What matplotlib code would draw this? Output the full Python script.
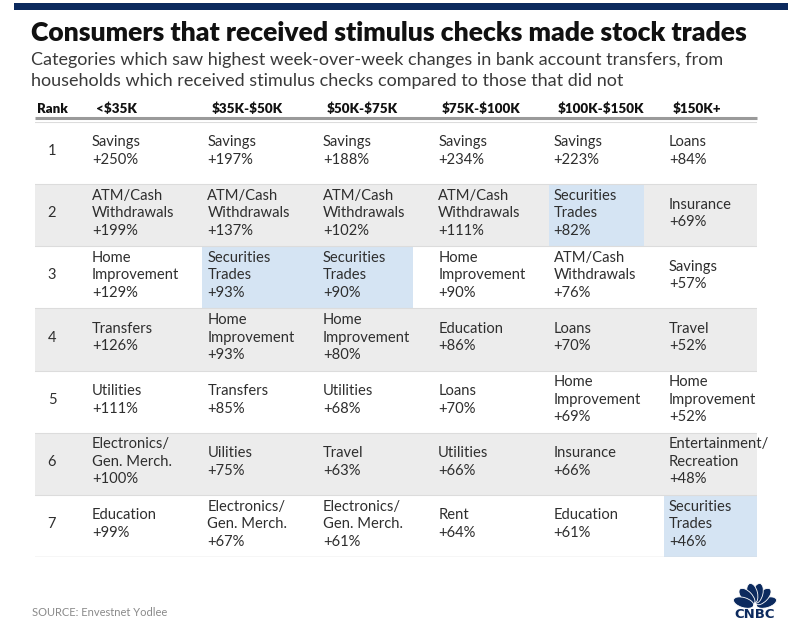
import matplotlib.pyplot as plt
import numpy as np
from matplotlib.patches import Rectangle, Ellipse, Polygon

# Table content (one list per income group, rank 1..7)
ranks = [1, 2, 3, 4, 5, 6, 7]
income_groups = ['<$35K', '$35K-$50K', '$50K-$75K', '$75K-$100K', '$100K-$150K', '$150K+']

cat_lt35 = ['Savings', 'ATM/Cash\nWithdrawals', 'Home\nImprovement', 'Transfers',
            'Utilities', 'Electronics/\nGen. Merch.', 'Education']
pct_lt35 = [250, 199, 129, 126, 111, 100, 99]

cat_35_50 = ['Savings', 'ATM/Cash\nWithdrawals', 'Securities\nTrades', 'Home\nImprovement',
             'Transfers', 'Uilities', 'Electronics/\nGen. Merch.']
pct_35_50 = [197, 137, 93, 93, 85, 75, 67]

cat_50_75 = ['Savings', 'ATM/Cash\nWithdrawals', 'Securities\nTrades', 'Home\nImprovement',
             'Utilities', 'Travel', 'Electronics/\nGen. Merch.']
pct_50_75 = [188, 102, 90, 80, 68, 63, 61]

cat_75_100 = ['Savings', 'ATM/Cash\nWithdrawals', 'Home\nImprovement', 'Education',
              'Loans', 'Utilities', 'Rent']
pct_75_100 = [234, 111, 90, 86, 70, 66, 64]

cat_100_150 = ['Savings', 'Securities\nTrades', 'ATM/Cash\nWithdrawals', 'Loans',
               'Home\nImprovement', 'Insurance', 'Education']
pct_100_150 = [223, 82, 76, 70, 69, 66, 61]

cat_150p = ['Loans', 'Insurance', 'Savings', 'Travel', 'Home\nImprovement',
            'Entertainment/\nRecreation', 'Securities\nTrades']
pct_150p = [84, 69, 57, 52, 52, 48, 46]

categories = [cat_lt35, cat_35_50, cat_50_75, cat_75_100, cat_100_150, cat_150p]
changes = [pct_lt35, pct_35_50, pct_50_75, pct_75_100, pct_100_150, pct_150p]
highlight_cat = 'Securities\nTrades'

title = 'Consumers that received stimulus checks made stock trades'
subtitle = ('Categories which saw highest week-over-week changes in bank account transfers, from\n'
            'households which received stimulus checks compared to those that did not')
source = 'SOURCE: Envestnet Yodlee'

# Colours
navy = '#0c2a5e'
gray_row = '#ececec'
blue_cell = '#d5e4f3'
txt = '#2e2e2e'

W, H = 800, 640
plt.rcParams['text.parse_math'] = False
plt.rcParams['font.family'] = ['Lato', 'DejaVu Sans']
fig = plt.figure(figsize=(8, 6.4), dpi=100)
fig.patch.set_facecolor('white')


def px(x, y):
    return x / W, 1 - y / H


def fit_width(t, target):
    r = fig.canvas.get_renderer()
    w = t.get_window_extent(renderer=r).width
    t.set_fontsize(t.get_fontsize() * target / w)


# top navy bar
fig.patches.append(Rectangle(px(14, 10), 774 / W, 7 / H, transform=fig.transFigure,
                             facecolor=navy, edgecolor='none'))

t = fig.text(*px(31, 41), title, fontsize=18, fontweight='heavy', color='#111111', va='baseline')
fit_width(t, 717)
s = fig.text(*px(31, 65), subtitle.split('\n')[0], fontsize=12, color='#3a3a3a', va='baseline')
fit_width(s, 688)
s2 = fig.text(*px(31, 86), subtitle.split('\n')[1], fontsize=s.get_fontsize(), color='#3a3a3a',
              va='baseline')

fig.text(*px(32, 612), source, fontsize=8, color='#8a8a8a', va='center')

# table axes: x in column units, y in rank units
tab_left, tab_right, tab_top, tab_bot = 35, 757, 122, 557
ax = fig.add_axes([tab_left / W, 1 - tab_bot / H, (tab_right - tab_left) / W, (tab_bot - tab_top) / H])
col0_px, col_step = 92, 115.4
ax.set_xlim((tab_left - col0_px) / col_step, (tab_right - col0_px) / col_step)
ax.set_ylim(len(ranks), 0)
ax.axis('off')

n_rows = len(ranks)
x_lo, x_hi = ax.get_xlim()
pad = 5 / col_step
cell_w = 95 / col_step

for r in range(n_rows):
    if r % 2 == 1:
        ax.add_patch(Rectangle((x_lo, r), x_hi - x_lo, 1, facecolor=gray_row, edgecolor='none'))
    ax.plot([x_lo, x_hi], [r, r], color='#dcdcdc', lw=0.8)

for c, col in enumerate(categories):
    for r, cat in enumerate(col):
        if cat == highlight_cat:
            nxt = c + 1 < len(categories) and categories[c + 1][r] == highlight_cat
            w = 1.0 if nxt else cell_w
            w = min(w, x_hi - (c - pad))
            ax.add_patch(Rectangle((c - pad, r), w, 1, facecolor=blue_cell, edgecolor='none'))

ax.plot([x_lo, x_hi], [n_rows, n_rows], color='#d6d6d6', lw=1.0)
ax.plot([x_lo, x_hi], [-4 / 62.1, -4 / 62.1], color='#9a9a9a', lw=2.2, clip_on=False,
        solid_capstyle='butt')

# header
hdr_y = -9 / 62.1
rank_x = (37 - col0_px) / col_step
ax.text(rank_x, hdr_y, 'Rank', fontsize=9.6, fontweight='heavy', color='#111111',
        va='baseline', ha='left', clip_on=False)
for c, g in enumerate(income_groups):
    ax.text(c + 4 / col_step, hdr_y, g, fontsize=9.6, fontweight='heavy', color='#111111',
            va='baseline', ha='left', clip_on=False)

# body
for r, rk in enumerate(ranks):
    ax.text((52 - col0_px) / col_step, r + 0.47, str(rk), fontsize=10.5, color=txt,
            ha='center', va='center')
    for c in range(len(categories)):
        label = f'{categories[c][r]}\n+{changes[c][r]}%'
        ax.text(c, r + 0.47, label, fontsize=10.6, color=txt, ha='left', va='center',
                linespacing=1.32)

# CNBC peacock logo
lax = fig.add_axes([733 / W, 1 - 609 / H, 44 / W, 27 / H])
lax.set_xlim(-1.1, 1.1)
lax.set_ylim(-0.05, 1.35)
lax.set_aspect('auto')
lax.axis('off')
for ang in [18, 48, 77, 103, 132, 162]:
    a = np.deg2rad(ang)
    lax.add_patch(Ellipse((0.6 * np.cos(a), 0.06 + 0.72 * np.sin(a)), 1.05, 0.52, angle=ang,
                          facecolor=navy, edgecolor='white', lw=0.6))
lax.add_patch(Polygon([[-0.12, 0.0], [0.12, 0.0], [0, 0.35]], facecolor='white', edgecolor='none'))
fig.text(*px(755, 614), 'CNBC', fontsize=9.5, fontweight='heavy', color=navy,
         ha='center', va='center', family=['DejaVu Sans'])

fig.savefig('out.png', dpi=100, facecolor='white')
